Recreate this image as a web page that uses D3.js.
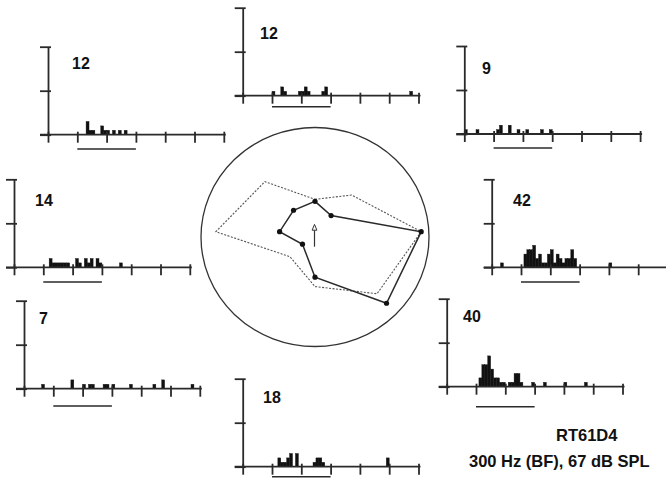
<!DOCTYPE html>
<html lang="en">
<head>
  <meta charset="UTF-8">
  <title>Spatial PSTHs with polar plot</title>
  <style>
    body { margin: 0; background: #fff; }
    svg { display: block; font-family: "Liberation Sans", Arial, sans-serif; }
    .axis path, .axis line { stroke: #2a2a2a; stroke-width: 1.8; }
  </style>
  <script src="https://d3js.org/d3.v7.min.js"></script>
</head>
<body>
  <svg id="chart" width="666" height="479"></svg>

  <script>
    // speaker azimuths (clockwise from the top) and the spike counts written on each panel
    const azimuths = [0, 45, 90, 135, 180, 225, 270, 315];
    const spikeCounts = [12, 9, 42, 40, 18, 7, 14, 12];
    // second (dotted) contour on the polar plot
    const dottedCounts = [12.8, 20.5, 42, 34.7, 21.7, 14, 39.2, 28];

    // PSTH bins: [bin start in ms, spikes], 5 ms bins
    const psth0 = [[50,1],[65,2],[70,1],[95,1],[100,1],[105,2],[110,1],[135,1],[140,2],[285,1]];
    const psth45 = [[0,1],[20,1],[55,1],[60,2],[75,2],[90,1],[105,1],[130,1],[145,1]];
    const psth90 = [[15,1],[55,3],[60,4],[65,4],[70,5],[75,2],[80,3],[85,1],[90,1],[95,3],[100,4],
                    [105,1],[110,3],[115,2],[120,1],[125,2],[130,2],[135,4],[140,2],[200,1]];
    const psth135 = [[55,2],[60,5],[65,5],[70,7],[75,4],[80,2],[85,2],[90,1],[95,1],[105,1],[110,1],
                     [115,3],[120,3],[125,1],[145,1],[165,1],[200,1],[235,1]];
    const psth180 = [[60,2],[65,1],[70,1],[75,2],[80,3],[90,3],[120,1],[125,2],[130,2],[135,1],[245,2]];
    const psth225 = [[30,1],[80,2],[100,1],[110,1],[115,1],[135,1],[140,1],[150,1],[180,1],[220,1],[235,2],[285,1]];
    const psth270 = [[60,2],[65,1],[70,1],[75,1],[80,1],[85,1],[90,1],[105,2],[110,1],[120,2],[125,1],
                     [130,2],[140,2],[145,1],[180,1]];
    const psth315 = [[65,3],[70,1],[75,1],[90,2],[95,1],[100,1],[110,1],[120,1],[130,1]];
    const psths = [psth0, psth45, psth90, psth135, psth180, psth225, psth270, psth315];

    const timeTicks = [0, 50, 100, 150, 200, 250, 300];
    const countTicks = [0, 10, 20];
    const stimulus = [50, 150];
    const binWidth = 5;

    // where each small panel sits (origin of axes, label spot, gap to stimulus bar)
    const panelPos = [
      { x: 242.7, y: 95.7,  lx: 260,   ly: 39.3,  u: 11 },
      { x: 464.3, y: 134,   lx: 482,   ly: 74,    u: 14 },
      { x: 491.7, y: 267.3, lx: 513,   ly: 205.7, u: 14.7 },
      { x: 446.7, y: 386.7, lx: 463,   ly: 322.3, u: 20 },
      { x: 242.7, y: 466.7, lx: 263,   ly: 403.3, u: 10 },
      { x: 24,    y: 388.7, lx: 39,    ly: 324.3, u: 17.3 },
      { x: 14,    y: 267.3, lx: 35,    ly: 205.7, u: 14.7 },
      { x: 48,    y: 134.7, lx: 72,    ly: 69.3,  u: 14.3 }
    ];

    const svg = d3.select('#chart');
    const plotW = 175.8, plotH = 88;

    panelPos.forEach((p, i) => {
      const g = svg.append('g').attr('transform', `translate(${p.x},${p.y})`);
      const x = d3.scaleLinear().domain([0, 300]).range([0, plotW]);
      const y = d3.scaleLinear().domain([0, 20]).range([0, -plotH]);

      // bars
      g.append('g').selectAll('rect')
        .data(psths[i])
        .join('rect')
        .attr('x', d => x(d[0]))
        .attr('width', x(binWidth) - x(0))
        .attr('y', d => y(d[1]))
        .attr('height', d => -y(d[1]))
        .attr('fill', '#111')
        .attr('stroke', '#111').attr('stroke-width', 0.4);

      // x axis, ticks cross the line
      const xa = g.append('g').attr('class', 'axis')
        .call(d3.axisBottom(x).tickValues(timeTicks).tickSize(8).tickSizeOuter(0).tickFormat(''));
      xa.selectAll('.tick line').attr('y1', -3).attr('y2', 8);
      xa.select('.domain').attr('d', `M-8,0H${plotW + 2}`);

      // y axis
      const ya = g.append('g').attr('class', 'axis')
        .call(d3.axisLeft(y).tickValues(countTicks).tickSize(8).tickSizeOuter(0).tickFormat(''));
      ya.selectAll('.tick line').attr('x1', 3).attr('x2', -8);

      // stimulus bar
      g.append('line')
        .attr('x1', x(stimulus[0])).attr('x2', x(stimulus[1]))
        .attr('y1', p.u).attr('y2', p.u)
        .attr('stroke', '#2a2a2a').attr('stroke-width', 1.5);

      svg.append('text')
        .attr('x', p.lx).attr('y', p.ly)
        .attr('font-size', 16).attr('font-weight', 'bold').attr('fill', '#111')
        .text(spikeCounts[i]);
    });

    // polar plot in the middle
    const cx = 315, cy = 231.7;
    const r = d3.scaleLinear().domain([0, 45]).range([0, 113.8]);
    const polar = svg.append('g').attr('transform', `translate(${cx},${cy})`);

    svg.append('ellipse')
      .attr('cx', 315).attr('cy', 237).attr('rx', 114).attr('ry', 109.5)
      .attr('fill', 'none').attr('stroke', '#333').attr('stroke-width', 1.3);

    const radial = d3.lineRadial()
      .angle((d, i) => azimuths[i] * Math.PI / 180)
      .radius(d => r(d))
      .curve(d3.curveLinearClosed);

    polar.append('path')
      .attr('d', radial(dottedCounts))
      .attr('fill', 'none').attr('stroke', '#555').attr('stroke-width', 1.1)
      .attr('stroke-dasharray', '2,1.5');

    polar.append('path')
      .attr('d', radial(spikeCounts))
      .attr('fill', 'none').attr('stroke', '#2a2a2a').attr('stroke-width', 1.5);

    polar.selectAll('circle')
      .data(spikeCounts)
      .join('circle')
      .attr('cx', (d, i) => r(d) * Math.sin(azimuths[i] * Math.PI / 180))
      .attr('cy', (d, i) => -r(d) * Math.cos(azimuths[i] * Math.PI / 180))
      .attr('r', 2.6)
      .attr('fill', '#111');

    // open arrow at the centre
    polar.append('line')
      .attr('x1', -0.5).attr('x2', -0.5).attr('y1', 15).attr('y2', -1.5)
      .attr('stroke', '#333').attr('stroke-width', 1.2);
    polar.append('path')
      .attr('d', 'M-0.5,-7.3L-2.9,-1.5L1.9,-1.5Z')
      .attr('fill', '#fff').attr('stroke', '#333').attr('stroke-width', 1);

    // unit and stimulus caption
    svg.append('text')
      .attr('x', 556).attr('y', 440.7)
      .attr('font-size', 16.5).attr('font-weight', 'bold').attr('fill', '#111')
      .text('RT61D4');
    svg.append('text')
      .attr('x', 469).attr('y', 466.7)
      .attr('font-size', 16.5).attr('font-weight', 'bold').attr('fill', '#111')
      .text('300 Hz (BF), 67 dB SPL');
  </script>
</body>
</html>
